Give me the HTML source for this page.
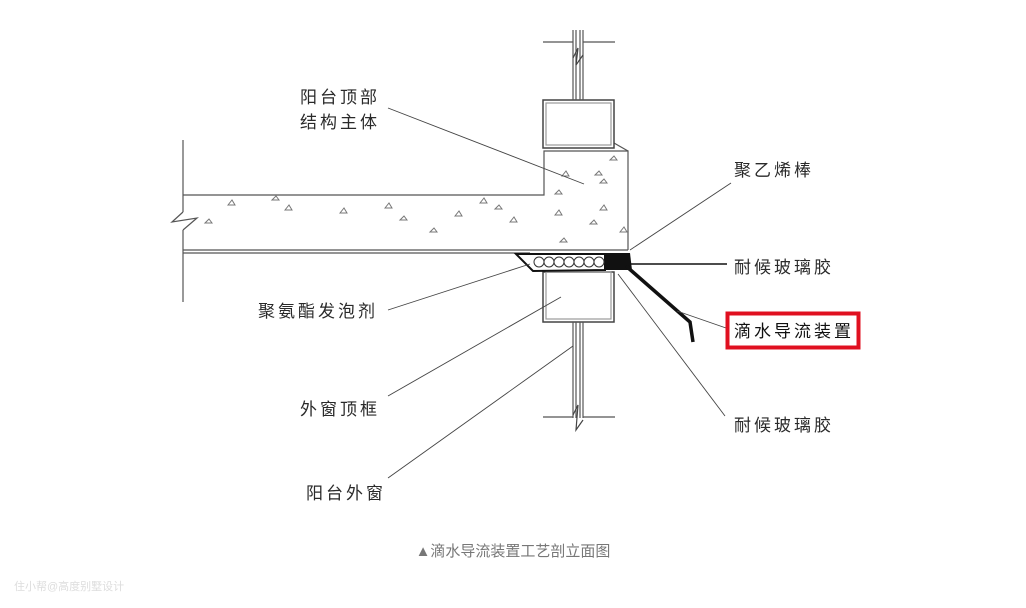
<!DOCTYPE html>
<html><head><meta charset="utf-8"><style>
html,body{margin:0;padding:0;background:#fff;width:1026px;height:608px;overflow:hidden}
svg{display:block}
text{font-family:"Liberation Sans","Noto Sans CJK SC",sans-serif}
</style></head><body>
<svg width="1026" height="608" viewBox="0 0 1026 608" xmlns="http://www.w3.org/2000/svg">
<g fill="none" stroke="#555" stroke-width="1.2">
<line x1="183" y1="140" x2="183" y2="212"/>
<line x1="183" y1="230" x2="183" y2="302"/>
<polyline points="183,212 172,222 197,218 183,230"/>
<polyline points="183,195 544,195 544,151 628,151 628,250"/>
<line x1="183" y1="250" x2="628" y2="250"/>
<line x1="183" y1="253" x2="530" y2="253"/>
<line x1="614" y1="143" x2="628" y2="151"/>
<rect x="543" y="100" width="71" height="48" stroke="#444" stroke-width="1.5"/>
<rect x="546" y="103" width="65" height="42" stroke="#999"/>
<line x1="573" y1="30" x2="573" y2="100"/>
<line x1="576" y1="30" x2="576" y2="100"/>
<line x1="580" y1="30" x2="580" y2="100"/>
<line x1="583" y1="30" x2="583" y2="100"/>
<polyline points="573,58 578,48 576,65 583,55" stroke="#444"/>
<line x1="543" y1="42" x2="573" y2="42"/>
<line x1="583" y1="42" x2="615" y2="42"/>
<rect x="543" y="272" width="71" height="50" stroke="#444" stroke-width="1.5"/>
<rect x="546" y="272" width="65" height="47" stroke="#999"/>
<line x1="573" y1="322" x2="573" y2="418"/>
<line x1="576" y1="322" x2="576" y2="418"/>
<line x1="580" y1="322" x2="580" y2="418"/>
<line x1="583" y1="322" x2="583" y2="418"/>
<polyline points="573,415 578,405 576,430 583,420" stroke="#444"/>
<line x1="543" y1="417" x2="573" y2="417"/>
<line x1="583" y1="417" x2="615" y2="417"/>
</g>
<g fill="none" stroke="#777" stroke-width="1">
<path d="M228,205 l4,-5 l3,5z M272,200 l4,-4 l3,4z M285,210 l4,-5 l3,5z M340,213 l4,-5 l3,5z M385,208 l4,-5 l3,5z M400,220 l4,-4 l3,4z M430,232 l4,-4 l3,4z M455,216 l4,-5 l3,5z M480,203 l4,-5 l3,5z M495,209 l4,-4 l3,4z M510,222 l4,-5 l3,5z M555,215 l4,-5 l3,5z M562,176 l4,-5 l3,5z M555,194 l4,-4 l3,4z M600,183 l4,-4 l3,4z M600,210 l4,-5 l3,5z M620,232 l4,-5 l3,5z M560,242 l4,-4 l3,4z M590,224 l4,-4 l3,4z M205,223 l4,-4 l3,4z M595,175 l4,-4 l3,4z M610,160 l4,-4 l3,4z"/>
</g>
<polygon points="516,254 605,254 605,270 533,271" fill="#fff" stroke="#111" stroke-width="2"/>
<g fill="none" stroke="#333" stroke-width="1">
<circle cx="539" cy="262" r="5"/><circle cx="549" cy="262" r="5"/><circle cx="559" cy="262" r="5"/><circle cx="569" cy="262" r="5"/><circle cx="579" cy="262" r="5"/><circle cx="589" cy="262" r="5"/><circle cx="599" cy="262" r="5"/>
</g>
<polygon points="605,253 630,253 632,270 605,270" fill="#111"/>
<polyline points="626,266 690,322 693,342" fill="none" stroke="#111" stroke-width="3.5"/>
<g stroke="#444" stroke-width="0.9" fill="none">
<line x1="388" y1="108" x2="584" y2="184"/>
<line x1="630" y1="250" x2="731" y2="183"/>
<line x1="630" y1="264" x2="727" y2="264" stroke="#111" stroke-width="1.5"/>
<line x1="677" y1="311" x2="726" y2="328"/>
<line x1="618" y1="274" x2="725" y2="416"/>
<line x1="388" y1="310" x2="530" y2="264"/>
<line x1="388" y1="396" x2="561" y2="297"/>
<line x1="388" y1="478" x2="573" y2="346"/>
</g>
<rect x="727.5" y="313.5" width="131" height="34" fill="#fff" stroke="#e01020" stroke-width="4"/>
<g fill="#2a2a2a" font-size="17" letter-spacing="3">
<text x="300" y="103">阳台顶部</text>
<text x="300" y="128">结构主体</text>
<text x="734" y="176">聚乙烯棒</text>
<text x="734" y="273">耐候玻璃胶</text>
<text x="734" y="337" fill="#111">滴水导流装置</text>
<text x="734" y="431">耐候玻璃胶</text>
<text x="258" y="317">聚氨酯发泡剂</text>
<text x="300" y="415">外窗顶框</text>
<text x="306" y="499">阳台外窗</text>
</g>
<text x="513" y="556" text-anchor="middle" font-size="15" fill="#777">▲滴水导流装置工艺剖立面图</text>
<text x="14" y="590" font-size="11" fill="#ddd">住小帮@高度别墅设计</text>
</svg>
</body></html>
